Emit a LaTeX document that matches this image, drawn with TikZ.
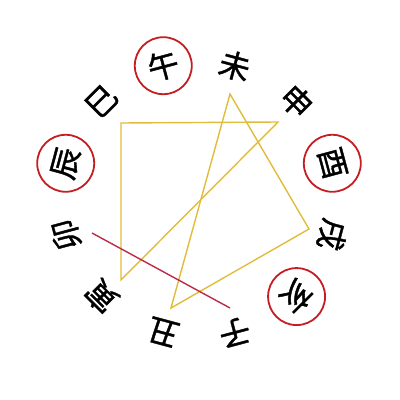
\documentclass[tikz,border=0pt]{standalone}
\usepackage{fontspec}
\usetikzlibrary{calc}
\newfontfamily\cjk[FakeBold=1.2]{Noto Sans CJK SC}
\definecolor{goldline}{HTML}{E0BC3C}
\definecolor{redline}{HTML}{BC2A48}
\definecolor{ringred}{HTML}{C41E22}
\begin{document}
\begin{tikzpicture}[x=1pt,y=1pt,
  branch/.style={font=\cjk\fontsize{31}{31}\selectfont, inner sep=0pt},
  ring/.style={draw=ringred, line width=1.8pt, circle, minimum size=57pt},
  gold/.style={draw=goldline, line width=1.4pt, line join=miter},
  redseg/.style={draw=redline, line width=1.4pt}]
\useasboundingbox (0,0) rectangle (400,400);
\coordinate (O) at (199,201);
\foreach \ch/\a/\nm in {午/105/wu,未/75/wei,申/45/shen,酉/15/you,戌/-15/xu,亥/-45/hai,子/-75/zi,丑/-105/chou,寅/-135/yin,卯/-165/mao,辰/165/chen,巳/135/si}{
  \node[branch, rotate=\a-90] (\nm) at ($(O)+(\a:138)$) {\ch};
}
\foreach \nm in {wu,chen,you,hai}{
  \node[ring] (r\nm) at (\nm.center) {};
}
\coordinate (A) at (121,277);
\coordinate (B) at (278,278);
\coordinate (C) at (230,306);
\coordinate (D) at (309,171);
\coordinate (E) at (171,92);
\coordinate (F) at (121,120);
\coordinate (R1) at (92,167);
\coordinate (R2) at (230,92);
\draw[gold] (A) -- (B) -- (F) -- cycle;
\draw[gold] (C) -- (D) -- (E) -- cycle;
\draw[redseg] (R1) -- (R2);
\end{tikzpicture}
\end{document}
